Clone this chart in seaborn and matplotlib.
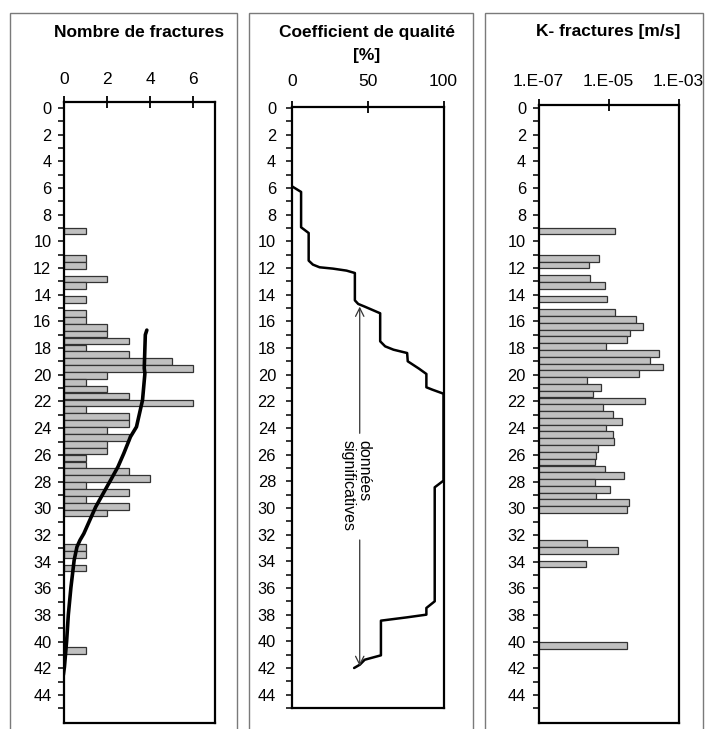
import numpy as np
import pandas as pd
import matplotlib
matplotlib.use("Agg")
import matplotlib.pyplot as plt
from matplotlib.ticker import FixedLocator, NullLocator, FixedFormatter
from matplotlib.patches import Rectangle
import seaborn as sns

# ---------------- data ----------------
# Panel 1: number of fractures per interval (depth in m)
frac_depth = [9.21, 11.27, 11.79, 12.82, 13.33, 14.37, 15.40, 15.91, 16.43, 16.95,
              17.46, 17.98, 18.49, 19.01, 19.53, 20.04, 20.56, 21.07, 21.59, 22.11,
              22.62, 23.14, 23.65, 24.17, 24.69, 25.20, 25.72, 26.23, 26.75, 27.27,
              27.78, 28.30, 28.81, 29.33, 29.85, 30.36, 32.94, 33.46, 34.49, 40.68]
frac_count = [1, 1, 1, 2, 1, 1, 1, 1, 2, 2,
              3, 1, 3, 5, 6, 2, 1, 2, 3, 6,
              1, 3, 3, 2, 3, 2, 2, 1, 1, 3,
              4, 1, 3, 1, 3, 2, 1, 1, 1, 1]
# smoothed trend curve (value, depth)
trend_value = [3.84, 3.77, 3.72, 3.75, 3.64, 3.36, 3.08, 2.77, 2.50, 2.16, 1.47,
               0.92, 0.74, 0.60, 0.47, 0.32, 0.20, 0.12, 0.02, -0.03]
trend_depth = [16.65, 17.0, 19.5, 19.9, 21.9, 23.9, 24.65, 25.9, 26.9, 27.9, 29.9,
               31.9, 32.4, 32.9, 33.9, 35.95, 38.0, 40.0, 41.9, 42.5]

# Panel 2: quality coefficient [%]
qual_value = [0, 6, 6, 11, 11, 13.8, 18.2, 27, 36, 41.5, 41.5, 43.7, 48, 58.2, 58.2,
              61.5, 67, 76, 76.4, 83.8, 88.7, 88.7, 92.7, 100, 100, 94.2, 94.2, 88.7,
              88.7, 76, 58.7, 58.7, 48, 44.8, 41]
qual_depth = [5.88, 6.3, 8.95, 9.38, 11.45, 11.75, 11.95, 12.05, 12.2, 12.38, 14.43,
              14.7, 14.9, 15.4, 17.5, 17.88, 18.13, 18.38, 19.0, 19.55, 19.95, 20.95,
              21.13, 21.43, 27.95, 28.45, 37.0, 37.5, 38.0, 38.2, 38.45, 41.05, 41.38,
              41.75, 42.0]
signif_top = 14.9
signif_bottom = 41.85
signif_label = "données\nsignificatives"

# Panel 3: hydraulic conductivity of fractures [m/s]
k_depth = [9.23, 11.27, 11.78, 12.80, 13.31, 14.32, 15.34, 15.85, 16.36, 16.87,
           17.38, 17.89, 18.40, 18.91, 19.41, 19.92, 20.43, 20.94, 21.45, 21.96,
           22.47, 22.98, 23.49, 23.99, 24.50, 25.01, 25.52, 26.03, 26.54, 27.05,
           27.56, 28.07, 28.58, 29.09, 29.59, 30.10, 32.65, 33.16, 34.18, 40.28]
k_value = [1.55e-5, 5.4e-6, 2.7e-6, 2.9e-6, 7.8e-6, 8.9e-6, 1.55e-5, 6.0e-5, 9.5e-5, 4.2e-5,
           3.4e-5, 8.5e-6, 2.7e-4, 1.55e-4, 3.7e-4, 7.2e-5, 2.4e-6, 6.2e-6, 3.5e-6, 1.12e-4,
           6.8e-6, 1.38e-5, 2.4e-5, 8.5e-6, 1.32e-5, 1.41e-5, 5.1e-6, 4.5e-6, 4.2e-6, 7.8e-6,
           2.8e-5, 4.2e-6, 1.07e-5, 4.5e-6, 3.9e-5, 3.4e-5, 2.4e-6, 1.82e-5, 2.3e-6, 3.4e-5]

titles = ["Nombre de fractures", "Coefficient de qualité", "K- fractures [m/s]"]
title2_line2 = "[%]"
x1_ticks = [0, 2, 4, 6]
x2_ticks = [0, 50, 100]
x3_ticks = [1e-7, 1e-5, 1e-3]
x3_labels = ["1.E-07", "1.E-05", "1.E-03"]
y_major = list(range(0, 45, 2))
y_minor = list(range(1, 46, 2))

# ---------------- style ----------------
sns.set_theme(style="white")
plt.rcParams["font.family"] = ["Liberation Sans", "DejaVu Sans"]
plt.rcParams["text.color"] = "black"

W, H = 705, 729
fig = plt.figure(figsize=(W / 100, H / 100), dpi=100)
fig.patch.set_facecolor("white")


def px_axes(left, top, right, bottom):
    return fig.add_axes([left / W, 1 - bottom / H, (right - left) / W, (bottom - top) / H])


ax1 = px_axes(64, 102, 215, 723)
ax2 = px_axes(292, 107, 443.5, 708)
ax3 = px_axes(538.5, 105, 678.5, 723)

# outer panel frames
for l, r in [(10, 237), (248.5, 473), (484.5, 703)]:
    fig.add_artist(Rectangle((l / W, -0.05), (r - l) / W, 1.05 - 13 / H,
                             transform=fig.transFigure, fill=False,
                             edgecolor="#7a7a7a", linewidth=1.0))

bar_fc = "#c0c0c0"
bar_ec = "#333333"

# ---- panel 1 ----
df1 = pd.DataFrame({"depth": frac_depth, "n": frac_count})
w1 = 0.5 / np.min(np.diff(np.sort(frac_depth)))
sns.barplot(data=df1, x="n", y="depth", orient="y", native_scale=True, width=w1,
            color=bar_fc, saturation=1, edgecolor=bar_ec, linewidth=0.9,
            errorbar=None, ax=ax1)
sns.lineplot(x=trend_value, y=trend_depth, sort=False, estimator=None,
             color="black", linewidth=2.6, ax=ax1)
ax1.set_xlim(0, 7)
ax1.set_ylim(46.1, -0.45)
ax1.set_xticks(x1_ticks)

# ---- panel 2 ----
sns.lineplot(x=qual_value, y=qual_depth, sort=False, estimator=None,
             color="black", linewidth=1.8, ax=ax2)
ax2.set_xlim(0, 100)
ax2.set_ylim(45, -0.07)
ax2.set_xticks(x2_ticks)
arrow_x = 44.7
text_x = 42.0
text_y = 28.3
gap_top = 24.4
gap_bottom = 32.4
arr = dict(arrowstyle="->,head_length=0.5,head_width=0.25", color="#333333", lw=0.9,
           shrinkA=0, shrinkB=0)
ax2.annotate("", xy=(arrow_x, signif_top), xytext=(arrow_x, gap_top), arrowprops=arr)
ax2.annotate("", xy=(arrow_x, signif_bottom), xytext=(arrow_x, gap_bottom), arrowprops=arr)
ax2.text(text_x, text_y, signif_label, rotation=-90, ha="center", va="center",
         multialignment="left", fontsize=11.5, linespacing=1.05, color="black")

# ---- panel 3 ----
ax3.set_xscale("log")
df3 = pd.DataFrame({"depth": k_depth, "k": k_value})
w3 = 0.5 / np.min(np.diff(np.sort(k_depth)))
sns.barplot(data=df3, x="k", y="depth", orient="y", native_scale=True, width=w3,
            color=bar_fc, saturation=1, edgecolor=bar_ec, linewidth=0.9,
            errorbar=None, ax=ax3)
ax3.set_xlim(1e-7, 1e-3)
ax3.set_ylim(46.1, -0.22)
ax3.xaxis.set_major_locator(FixedLocator(x3_ticks))
ax3.xaxis.set_major_formatter(FixedFormatter(x3_labels))
ax3.xaxis.set_minor_locator(NullLocator())

# ---- common axis styling ----
for ax, xpad in [(ax1, 7.0), (ax2, 9.0), (ax3, 7.5)]:
    ax.set_xlabel("")
    ax.set_ylabel("")
    ax.grid(False)
    ax.set_facecolor("white")
    for s in ax.spines.values():
        s.set_visible(True)
        s.set_color("black")
        s.set_linewidth(1.6)
    ax.xaxis.tick_top()
    ax.tick_params(axis="x", which="major", direction="inout", length=8, width=1.3,
                   color="black", labelsize=12.5, pad=xpad, labelcolor="black",
                   top=True, bottom=False)
    ax.yaxis.set_major_locator(FixedLocator(y_major))
    ax.yaxis.set_minor_locator(FixedLocator(y_minor))
    ax.tick_params(axis="y", which="both", direction="out", length=4.5, width=1.1,
                   color="black", left=True, right=False)
    ax.tick_params(axis="y", which="major", labelsize=11.8, pad=4.5, labelcolor="black")
ax2.tick_params(axis="y", which="major", pad=7)

# titles
title_kw = dict(ha="center", va="baseline", fontsize=12.5, fontweight="bold", color="black")
fig.text(139 / W, 1 - 37 / H, titles[0], **title_kw)
fig.text(367 / W, 1 - 36.5 / H, titles[1], **title_kw)
fig.text(367 / W, 1 - 60 / H, title2_line2, **title_kw)
fig.text(608 / W, 1 - 36 / H, titles[2], **title_kw)

fig.savefig("out.png", dpi=100, facecolor="white")
